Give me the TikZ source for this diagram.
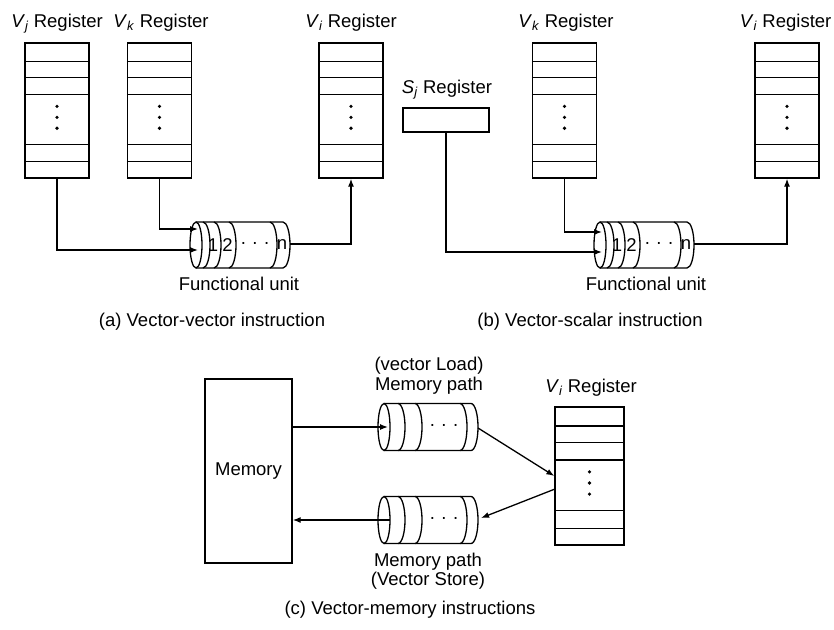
\documentclass[tikz,border=0pt]{standalone}
\usepackage{fontspec}
\setmainfont{Liberation Sans}
\usetikzlibrary{arrows.meta,calc}

\newcommand{\reg}[2]{\textit{#1}\textsubscript{\textit{#2}}}
\newcommand{\regrows}[1]{%
  \foreach \f in {0.14,0.26,0.385,0.75,0.875}{%
    \draw ($(#1.north west)!\f!(#1.south west)$) -- ($(#1.north east)!\f!(#1.south east)$);}%
  \foreach \f in {0.47,0.55,0.63}{%
    \fill ($(#1.north)!\f!(#1.south)$) circle (1.8);}%
}
% #1 left cx, #2 cy, #3 rx, #4 ry, #5 end centre, #6 divider centres
\newcommand{\cylbody}[6]{%
  \draw (#1,#2-#4) -- (#5,#2-#4) arc(-90:90:#3 and #4) -- (#1,#2+#4);
  \draw (#1,#2) ellipse (#3-1 and #4);
  \foreach \c in {#6}{\draw (\c,#2-#4) arc(-90:90:#3 and #4);}%
}

\begin{document}
\begin{tikzpicture}[x=1pt,y=-1pt,line width=1.3pt,
  every node/.style={font=\fontsize{18.5}{20}\selectfont,inner sep=0pt},
  regbox/.style={draw,line width=1.3pt,minimum width=64pt,minimum height=135pt},
  lbl/.style={anchor=base},
  arr/.style={-{Latex[length=8pt,width=6pt]}},
  hdots/.style={}
]
\useasboundingbox (0,0) rectangle (834,629);

% ---------------- (a) ----------------
\node[regbox] (vja) at (57,110.5) {};
\node[regbox] (vka) at (159.5,110.5) {};
\node[regbox] (via) at (351,110.5) {};
\regrows{vja}\regrows{vka}\regrows{via}
\node[lbl] (lvja) at (57,27) {\reg{V}{j} Register};
\node[lbl] (lvka) at (161,27) {\reg{V}{k} Register};
\node[lbl] (lvia) at (351,27) {\reg{V}{i} Register};

\cylbody{196}{245}{7}{23}{283}{203,214,229,270}
\node (fa1) at (213,245) {1};
\node (fa2) at (227.5,245) {2};
\node[hdots] (fad) at (255,245) {·\hspace{5.5pt}·\hspace{5.5pt}·};
\node (fan) at (282,245) {n};
\coordinate (fain1) at (198,229);
\coordinate (fain2) at (198,250);
\coordinate (faout) at (290,244);
\draw[arr] (vka.south) |- (fain1);
\draw[arr] (vja.south) |- (fain2);
\draw[arr] (faout) -| (via.south);
\node[lbl] (fual) at (239,290) {Functional unit};
\node[lbl] (capa) at (212,326) {(a) Vector-vector instruction};

% ---------------- (b) ----------------
\node[draw,minimum width=86pt,minimum height=24pt] (sj) at (446,120) {};
\node[lbl] (lsj) at (447,93) {\reg{S}{j} Register};
\node[regbox] (vkb) at (564.5,110.5) {};
\node[regbox] (vib) at (787,110.5) {};
\regrows{vkb}\regrows{vib}
\node[lbl] (lvkb) at (566,27) {\reg{V}{k} Register};
\node[lbl,anchor=base east] (lvib) at (832,27) {\reg{V}{i} Register};

\cylbody{600}{245}{7}{23}{687}{607,618,633,674}
\node (fb1) at (617,245) {1};
\node (fb2) at (631.5,245) {2};
\node[hdots] (fbd) at (659,245) {·\hspace{5.5pt}·\hspace{5.5pt}·};
\node (fbn) at (686,245) {n};
\coordinate (fbin1) at (602,232);
\coordinate (fbin2) at (602,252);
\coordinate (fbout) at (694,244);
\draw[arr] (vkb.south) |- (fbin1);
\draw[arr] (sj.south) |- (fbin2);
\draw[arr] (fbout) -| (vib.south);
\node[lbl] (fubl) at (646,290) {Functional unit};
\node[lbl] (capb) at (590,326) {(b) Vector-scalar instruction};

% ---------------- (c) ----------------
\node[draw,minimum width=87pt,minimum height=184pt] (mem) at (248.5,471) {Memory};
\node[regbox,minimum width=69pt,minimum height=138pt] (vic) at (589.5,476) {};
\regrows{vic}
\node[lbl] (lvic) at (591,392) {\reg{V}{i} Register};

\cylbody{384}{427}{7}{23.5}{471}{398,415,460}
\node[hdots] (ld) at (444,427) {·\hspace{5.5pt}·\hspace{5.5pt}·};
\cylbody{384}{520}{7}{23.5}{471}{398,415,460}
\node[hdots] (sd) at (444,520) {·\hspace{5.5pt}·\hspace{5.5pt}·};

\node[lbl] (ll1) at (429,370) {(vector Load)};
\node[lbl] (ll2) at (429,390) {Memory path};
\node[lbl] (sl1) at (428,566) {Memory path};
\node[lbl] (sl2) at (428,585) {(Vector Store)};

\coordinate (ldin) at (388,427);
\coordinate (ldout) at (478,428);
\coordinate (vicout) at (555,489);
\coordinate (stin) at (481,518);
\coordinate (stout) at (390,520);
\draw[arr] (mem.east |- ldin) -- (ldin);
\draw[arr] (ldout) -- (vic.west);
\draw[arr] (vicout) -- (stin);
\draw[arr] (stout) -- (mem.east |- stout);

\node[lbl] (capc) at (410,614) {(c) Vector-memory instructions};
\end{tikzpicture}
\end{document}
